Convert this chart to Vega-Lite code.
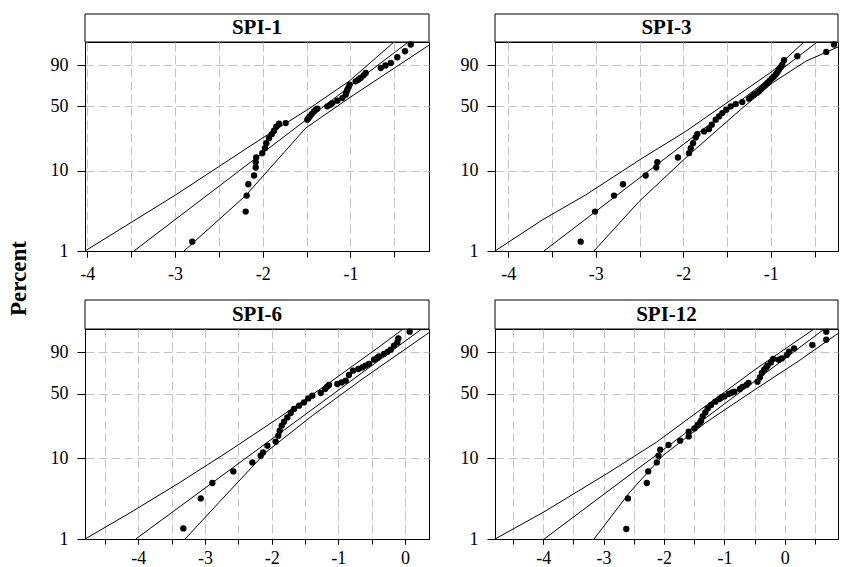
{
  "$schema": "https://vega.github.io/schema/vega-lite/v6.json",
  "background": "white",
  "padding": {"left": 7, "top": 13, "right": 0, "bottom": 0},
  "title": {"text": "Percent", "orient": "left", "anchor": "middle", "font": "Liberation Serif", "fontSize": 23, "fontWeight": "bold", "color": "black", "offset": 19, "dx": 12},
  "datasets": {
    "points": [
      {"panel":"SPI-1","x":-2.803,"t":-4.327},{"panel":"SPI-1","x":-2.194,"t":-3.448},{"panel":"SPI-1","x":-2.183,"t":-2.978},{"panel":"SPI-1","x":-2.164,"t":-2.647},{"panel":"SPI-1","x":-2.099,"t":-2.392},{"panel":"SPI-1","x":-2.080,"t":-2.157},{"panel":"SPI-1","x":-2.080,"t":-2.002},{"panel":"SPI-1","x":-2.074,"t":-1.864},{"panel":"SPI-1","x":-2.005,"t":-1.738},{"panel":"SPI-1","x":-1.974,"t":-1.591},{"panel":"SPI-1","x":-1.959,"t":-1.445},{"panel":"SPI-1","x":-1.928,"t":-1.298},{"panel":"SPI-1","x":-1.897,"t":-1.181},{"panel":"SPI-1","x":-1.871,"t":-1.081},{"panel":"SPI-1","x":-1.845,"t":-0.964},{"panel":"SPI-1","x":-1.814,"t":-0.876},{"panel":"SPI-1","x":-1.738,"t":-0.858},{"panel":"SPI-1","x":-1.491,"t":-0.758},{"panel":"SPI-1","x":-1.478,"t":-0.710},{"panel":"SPI-1","x":-1.464,"t":-0.662},{"panel":"SPI-1","x":-1.441,"t":-0.594},{"panel":"SPI-1","x":-1.415,"t":-0.515},{"panel":"SPI-1","x":-1.395,"t":-0.470},{"panel":"SPI-1","x":-1.377,"t":-0.436},{"panel":"SPI-1","x":-1.263,"t":-0.368},{"panel":"SPI-1","x":-1.230,"t":-0.320},{"panel":"SPI-1","x":-1.206,"t":-0.272},{"panel":"SPI-1","x":-1.149,"t":-0.201},{"panel":"SPI-1","x":-1.092,"t":-0.125},{"panel":"SPI-1","x":-1.054,"t":-0.025},{"panel":"SPI-1","x":-1.045,"t":0.050},{"panel":"SPI-1","x":-1.035,"t":0.121},{"panel":"SPI-1","x":-1.020,"t":0.195},{"panel":"SPI-1","x":-1.008,"t":0.268},{"panel":"SPI-1","x":-0.940,"t":0.365},{"panel":"SPI-1","x":-0.910,"t":0.410},{"panel":"SPI-1","x":-0.883,"t":0.462},{"panel":"SPI-1","x":-0.850,"t":0.540},{"panel":"SPI-1","x":-0.826,"t":0.608},{"panel":"SPI-1","x":-0.654,"t":0.755},{"panel":"SPI-1","x":-0.600,"t":0.830},{"panel":"SPI-1","x":-0.540,"t":0.901},{"panel":"SPI-1","x":-0.465,"t":1.069},{"panel":"SPI-1","x":-0.377,"t":1.245},{"panel":"SPI-1","x":-0.312,"t":1.441},

      {"panel":"SPI-3","x":-3.173,"t":-4.327},{"panel":"SPI-3","x":-3.009,"t":-3.448},{"panel":"SPI-3","x":-2.792,"t":-2.978},{"panel":"SPI-3","x":-2.689,"t":-2.647},{"panel":"SPI-3","x":-2.430,"t":-2.392},{"panel":"SPI-3","x":-2.309,"t":-2.157},{"panel":"SPI-3","x":-2.297,"t":-2.002},{"panel":"SPI-3","x":-2.061,"t":-1.864},{"panel":"SPI-3","x":-1.935,"t":-1.738},{"panel":"SPI-3","x":-1.915,"t":-1.591},{"panel":"SPI-3","x":-1.889,"t":-1.445},{"panel":"SPI-3","x":-1.858,"t":-1.277},{"panel":"SPI-3","x":-1.840,"t":-1.181},{"panel":"SPI-3","x":-1.763,"t":-1.101},{"panel":"SPI-3","x":-1.706,"t":-1.034},{"panel":"SPI-3","x":-1.675,"t":-0.905},{"panel":"SPI-3","x":-1.630,"t":-0.758},{"panel":"SPI-3","x":-1.592,"t":-0.662},{"panel":"SPI-3","x":-1.554,"t":-0.565},{"panel":"SPI-3","x":-1.509,"t":-0.465},{"panel":"SPI-3","x":-1.458,"t":-0.368},{"panel":"SPI-3","x":-1.401,"t":-0.301},{"panel":"SPI-3","x":-1.326,"t":-0.242},{"panel":"SPI-3","x":-1.249,"t":-0.143},{"panel":"SPI-3","x":-1.220,"t":-0.090},{"panel":"SPI-3","x":-1.192,"t":-0.025},{"panel":"SPI-3","x":-1.160,"t":0.020},{"panel":"SPI-3","x":-1.135,"t":0.072},{"panel":"SPI-3","x":-1.110,"t":0.130},{"panel":"SPI-3","x":-1.089,"t":0.189},{"panel":"SPI-3","x":-1.065,"t":0.250},{"panel":"SPI-3","x":-1.040,"t":0.315},{"panel":"SPI-3","x":-1.015,"t":0.380},{"panel":"SPI-3","x":-0.990,"t":0.444},{"panel":"SPI-3","x":-0.967,"t":0.500},{"panel":"SPI-3","x":-0.944,"t":0.561},{"panel":"SPI-3","x":-0.925,"t":0.630},{"panel":"SPI-3","x":-0.906,"t":0.708},{"panel":"SPI-3","x":-0.885,"t":0.780},{"panel":"SPI-3","x":-0.869,"t":0.855},{"panel":"SPI-3","x":-0.849,"t":0.981},{"panel":"SPI-3","x":-0.697,"t":1.098},{"panel":"SPI-3","x":-0.366,"t":1.224},{"panel":"SPI-3","x":-0.278,"t":1.441},

      {"panel":"SPI-6","x":-3.324,"t":-4.291},{"panel":"SPI-6","x":-3.063,"t":-3.418},{"panel":"SPI-6","x":-2.889,"t":-2.969},{"panel":"SPI-6","x":-2.574,"t":-2.631},{"panel":"SPI-6","x":-2.289,"t":-2.369},{"panel":"SPI-6","x":-2.164,"t":-2.174},{"panel":"SPI-6","x":-2.129,"t":-2.078},{"panel":"SPI-6","x":-2.064,"t":-1.883},{"panel":"SPI-6","x":-1.939,"t":-1.766},{"panel":"SPI-6","x":-1.900,"t":-1.592},{"panel":"SPI-6","x":-1.879,"t":-1.446},{"panel":"SPI-6","x":-1.849,"t":-1.301},{"panel":"SPI-6","x":-1.814,"t":-1.184},{"panel":"SPI-6","x":-1.765,"t":-1.059},{"panel":"SPI-6","x":-1.714,"t":-0.931},{"panel":"SPI-6","x":-1.664,"t":-0.814},{"panel":"SPI-6","x":-1.589,"t":-0.718},{"panel":"SPI-6","x":-1.514,"t":-0.622},{"panel":"SPI-6","x":-1.450,"t":-0.506},{"panel":"SPI-6","x":-1.390,"t":-0.427},{"panel":"SPI-6","x":-1.264,"t":-0.348},{"panel":"SPI-6","x":-1.199,"t":-0.232},{"panel":"SPI-6","x":-1.170,"t":-0.170},{"panel":"SPI-6","x":-1.139,"t":-0.115},{"panel":"SPI-6","x":-1.015,"t":-0.086},{"panel":"SPI-6","x":-0.950,"t":-0.040},{"panel":"SPI-6","x":-0.889,"t":0.010},{"panel":"SPI-6","x":-0.840,"t":0.176},{"panel":"SPI-6","x":-0.780,"t":0.301},{"panel":"SPI-6","x":-0.700,"t":0.350},{"panel":"SPI-6","x":-0.640,"t":0.397},{"panel":"SPI-6","x":-0.590,"t":0.450},{"panel":"SPI-6","x":-0.540,"t":0.496},{"panel":"SPI-6","x":-0.465,"t":0.621},{"panel":"SPI-6","x":-0.420,"t":0.670},{"panel":"SPI-6","x":-0.390,"t":0.718},{"panel":"SPI-6","x":-0.315,"t":0.787},{"panel":"SPI-6","x":-0.260,"t":0.850},{"panel":"SPI-6","x":-0.214,"t":0.913},{"panel":"SPI-6","x":-0.165,"t":1.029},{"panel":"SPI-6","x":-0.115,"t":1.125},{"panel":"SPI-6","x":-0.100,"t":1.242},{"panel":"SPI-6","x":0.070,"t":1.437},

      {"panel":"SPI-12","x":-2.624,"t":-4.309},{"panel":"SPI-12","x":-2.597,"t":-3.418},{"panel":"SPI-12","x":-2.284,"t":-2.969},{"panel":"SPI-12","x":-2.261,"t":-2.631},{"panel":"SPI-12","x":-2.119,"t":-2.369},{"panel":"SPI-12","x":-2.091,"t":-2.174},{"panel":"SPI-12","x":-2.063,"t":-1.999},{"panel":"SPI-12","x":-1.926,"t":-1.862},{"panel":"SPI-12","x":-1.733,"t":-1.737},{"panel":"SPI-12","x":-1.591,"t":-1.612},{"panel":"SPI-12","x":-1.591,"t":-1.475},{"panel":"SPI-12","x":-1.497,"t":-1.379},{"panel":"SPI-12","x":-1.442,"t":-1.280},{"panel":"SPI-12","x":-1.400,"t":-1.200},{"panel":"SPI-12","x":-1.386,"t":-1.155},{"panel":"SPI-12","x":-1.360,"t":-1.030},{"panel":"SPI-12","x":-1.315,"t":-0.913},{"panel":"SPI-12","x":-1.277,"t":-0.797},{"panel":"SPI-12","x":-1.221,"t":-0.698},{"panel":"SPI-12","x":-1.150,"t":-0.602},{"panel":"SPI-12","x":-1.084,"t":-0.523},{"panel":"SPI-12","x":-1.050,"t":-0.480},{"panel":"SPI-12","x":-1.002,"t":-0.447},{"panel":"SPI-12","x":-0.931,"t":-0.377},{"panel":"SPI-12","x":-0.880,"t":-0.340},{"panel":"SPI-12","x":-0.837,"t":-0.311},{"panel":"SPI-12","x":-0.743,"t":-0.232},{"panel":"SPI-12","x":-0.700,"t":-0.170},{"panel":"SPI-12","x":-0.634,"t":-0.115},{"panel":"SPI-12","x":-0.601,"t":-0.057},{"panel":"SPI-12","x":-0.452,"t":-0.019},{"panel":"SPI-12","x":-0.413,"t":0.106},{"panel":"SPI-12","x":-0.380,"t":0.234},{"panel":"SPI-12","x":-0.342,"t":0.330},{"panel":"SPI-12","x":-0.310,"t":0.390},{"panel":"SPI-12","x":-0.287,"t":0.447},{"panel":"SPI-12","x":-0.231,"t":0.543},{"panel":"SPI-12","x":-0.193,"t":0.642},{"panel":"SPI-12","x":-0.100,"t":0.620},{"panel":"SPI-12","x":-0.050,"t":0.659},{"panel":"SPI-12","x":0.033,"t":0.758},{"panel":"SPI-12","x":0.071,"t":0.854},{"panel":"SPI-12","x":0.153,"t":0.950},{"panel":"SPI-12","x":0.455,"t":1.049},{"panel":"SPI-12","x":0.686,"t":1.204},{"panel":"SPI-12","x":0.686,"t":1.437}
    ],
    "lines": [
      {"panel":"SPI-1","curve":"fit","x":-3.468,"t":-4.6},{"panel":"SPI-1","curve":"fit","x":-0.340,"t":1.515},
      {"panel":"SPI-1","curve":"upper","x":-4.026,"t":-4.6},{"panel":"SPI-1","curve":"upper","x":-2.992,"t":-2.958},{"panel":"SPI-1","curve":"upper","x":-2.005,"t":-1.298},{"panel":"SPI-1","curve":"upper","x":-1.472,"t":-0.436},{"panel":"SPI-1","curve":"upper","x":-1.016,"t":0.365},{"panel":"SPI-1","curve":"upper","x":-0.503,"t":1.515},
      {"panel":"SPI-1","curve":"lower","x":-2.897,"t":-4.6},{"panel":"SPI-1","curve":"lower","x":-2.194,"t":-2.978},{"panel":"SPI-1","curve":"lower","x":-1.510,"t":-1.004},{"panel":"SPI-1","curve":"lower","x":-1.016,"t":-0.125},{"panel":"SPI-1","curve":"lower","x":-0.123,"t":1.391},{"panel":"SPI-1","curve":"lower","x":-0.104,"t":1.420},

      {"panel":"SPI-3","curve":"fit","x":-3.592,"t":-4.6},{"panel":"SPI-3","curve":"fit","x":-0.469,"t":1.515},
      {"panel":"SPI-3","curve":"upper","x":-4.152,"t":-4.6},{"panel":"SPI-3","curve":"upper","x":-3.611,"t":-3.691},{"panel":"SPI-3","curve":"upper","x":-3.115,"t":-2.958},{"panel":"SPI-3","curve":"upper","x":-2.469,"t":-1.884},{"panel":"SPI-3","curve":"upper","x":-1.973,"t":-1.101},{"panel":"SPI-3","curve":"upper","x":-1.478,"t":-0.222},{"panel":"SPI-3","curve":"upper","x":-0.983,"t":0.658},{"panel":"SPI-3","curve":"upper","x":-0.621,"t":1.515},
      {"panel":"SPI-3","curve":"lower","x":-3.021,"t":-4.6},{"panel":"SPI-3","curve":"lower","x":-2.506,"t":-3.154},{"panel":"SPI-3","curve":"lower","x":-1.935,"t":-1.785},{"panel":"SPI-3","curve":"lower","x":-1.326,"t":-0.418},{"panel":"SPI-3","curve":"lower","x":-0.983,"t":0.315},{"panel":"SPI-3","curve":"lower","x":-0.601,"t":0.951},{"panel":"SPI-3","curve":"lower","x":-0.232,"t":1.370},

      {"panel":"SPI-6","curve":"fit","x":-4.038,"t":-4.6},{"panel":"SPI-6","curve":"fit","x":0.250,"t":1.515},
      {"panel":"SPI-6","curve":"upper","x":-4.798,"t":-4.6},{"panel":"SPI-6","curve":"upper","x":-4.138,"t":-3.854},{"panel":"SPI-6","curve":"upper","x":-3.388,"t":-2.969},{"panel":"SPI-6","curve":"upper","x":-2.639,"t":-2.037},{"panel":"SPI-6","curve":"upper","x":-1.889,"t":-1.067},{"panel":"SPI-6","curve":"upper","x":-1.139,"t":-0.057},{"panel":"SPI-6","curve":"upper","x":-0.390,"t":0.991},{"panel":"SPI-6","curve":"upper","x":-0.015,"t":1.533},
      {"panel":"SPI-6","curve":"lower","x":-3.298,"t":-4.6},{"panel":"SPI-6","curve":"lower","x":-2.789,"t":-3.534},{"panel":"SPI-6","curve":"lower","x":-2.089,"t":-2.078},{"panel":"SPI-6","curve":"lower","x":-1.390,"t":-1.009},{"panel":"SPI-6","curve":"lower","x":-0.640,"t":0.059},{"panel":"SPI-6","curve":"lower","x":0.310,"t":1.341},{"panel":"SPI-6","curve":"lower","x":0.360,"t":1.410},

      {"panel":"SPI-12","curve":"fit","x":-3.983,"t":-4.6},{"panel":"SPI-12","curve":"fit","x":0.654,"t":1.515},
      {"panel":"SPI-12","curve":"upper","x":-4.797,"t":-4.6},{"panel":"SPI-12","curve":"upper","x":-4.000,"t":-3.825},{"panel":"SPI-12","curve":"upper","x":-2.954,"t":-2.707},{"panel":"SPI-12","curve":"upper","x":-2.129,"t":-1.787},{"panel":"SPI-12","curve":"upper","x":-1.304,"t":-0.718},{"panel":"SPI-12","curve":"upper","x":-0.479,"t":0.350},{"panel":"SPI-12","curve":"upper","x":0.483,"t":1.515},
      {"panel":"SPI-12","curve":"lower","x":-3.158,"t":-4.6},{"panel":"SPI-12","curve":"lower","x":-2.569,"t":-3.243},{"panel":"SPI-12","curve":"lower","x":-2.020,"t":-2.174},{"panel":"SPI-12","curve":"lower","x":-1.304,"t":-1.204},{"panel":"SPI-12","curve":"lower","x":-0.479,"t":-0.232},{"panel":"SPI-12","curve":"lower","x":0.236,"t":0.592},{"panel":"SPI-12","curve":"lower","x":0.842,"t":1.341},{"panel":"SPI-12","curve":"lower","x":0.880,"t":1.380}
    ]
  },
  "spacing": 15,
  "vconcat": [
    {
      "spacing": 29,
      "hconcat": [
        {
          "spacing": 0,
          "bounds": "flush",
          "vconcat": [
            {"width": 344, "height": 28, "data": {"values": [{"label": "SPI-1"}]},
             "layer": [
               {"mark": {"type": "rect", "fill": "white", "stroke": "black", "strokeWidth": 1}, "encoding": {}},
               {"mark": {"type": "text", "font": "Liberation Serif", "fontSize": 21, "fontWeight": "bold", "color": "black"}, "encoding": {"text": {"field": "label", "type": "nominal"}}}
             ]},
            {"width": 344, "height": 209,
             "resolve": {"axis": {"x": "independent"}},
             "layer": [
               {"data": {"name": "lines"}, "transform": [{"filter": "datum.panel === 'SPI-1'"}], "mark": {"type": "line", "color": "black", "strokeWidth": 1, "clip": true},
                "encoding": {
                  "x": {"field": "x", "type": "quantitative", "scale": {"domain": [-4.026, -0.104], "nice": false, "zero": false}, "axis": {"orient": "bottom", "values": [-4, -3, -2, -1], "labelExpr": "'' + datum.value", "title": null, "grid": false, "tickSize": 6, "labelPadding": 8, "labelOverlap": false, "labelFlush": false}},
                  "y": {"field": "t", "type": "quantitative", "scale": {"domain": [-4.600149, 1.515], "nice": false, "zero": false}, "axis": {"values": [-4.600149, -2.250367, -0.366513, 0.834032], "labelExpr": "datum.value < -4 ? '1' : datum.value < -2 ? '10' : datum.value < 0 ? '50' : '90'", "title": null, "labelOverlap": false, "gridColor": {"condition": {"test": "datum.value < -4", "value": "transparent"}, "value": "#c4c4c4"}}},
                  "detail": {"field": "curve", "type": "nominal"}
                }},
               {"data": {"name": "points"}, "transform": [{"filter": "datum.panel === 'SPI-1'"}], "mark": {"type": "circle", "color": "black", "size": 40, "opacity": 1},
                "encoding": {"x": {"field": "x", "type": "quantitative", "axis": {"orient": "bottom", "values": [-4, -3.5, -3, -2.5, -2, -1.5, -1, -0.5], "labels": false, "domain": false, "grid": true, "title": null, "tickSize": 6}}, "y": {"field": "t", "type": "quantitative"}}}
             ]}
          ]
        },
        {
          "spacing": 0,
          "bounds": "flush",
          "vconcat": [
            {"width": 343, "height": 28, "data": {"values": [{"label": "SPI-3"}]},
             "layer": [
               {"mark": {"type": "rect", "fill": "white", "stroke": "black", "strokeWidth": 1}, "encoding": {}},
               {"mark": {"type": "text", "font": "Liberation Serif", "fontSize": 21, "fontWeight": "bold", "color": "black"}, "encoding": {"text": {"field": "label", "type": "nominal"}}}
             ]},
            {"width": 343, "height": 209,
             "resolve": {"axis": {"x": "independent"}},
             "layer": [
               {"data": {"name": "lines"}, "transform": [{"filter": "datum.panel === 'SPI-3'"}], "mark": {"type": "line", "color": "black", "strokeWidth": 1, "clip": true},
                "encoding": {
                  "x": {"field": "x", "type": "quantitative", "scale": {"domain": [-4.152, -0.232], "nice": false, "zero": false}, "axis": {"orient": "bottom", "values": [-4, -3, -2, -1], "labelExpr": "'' + datum.value", "title": null, "grid": false, "tickSize": 6, "labelPadding": 8, "labelOverlap": false, "labelFlush": false}},
                  "y": {"field": "t", "type": "quantitative", "scale": {"domain": [-4.600149, 1.515], "nice": false, "zero": false}, "axis": {"values": [-4.600149, -2.250367, -0.366513, 0.834032], "labelExpr": "datum.value < -4 ? '1' : datum.value < -2 ? '10' : datum.value < 0 ? '50' : '90'", "title": null, "labelOverlap": false, "gridColor": {"condition": {"test": "datum.value < -4", "value": "transparent"}, "value": "#c4c4c4"}}},
                  "detail": {"field": "curve", "type": "nominal"}
                }},
               {"data": {"name": "points"}, "transform": [{"filter": "datum.panel === 'SPI-3'"}], "mark": {"type": "circle", "color": "black", "size": 40, "opacity": 1},
                "encoding": {"x": {"field": "x", "type": "quantitative", "axis": {"orient": "bottom", "values": [-4, -3.5, -3, -2.5, -2, -1.5, -1, -0.5], "labels": false, "domain": false, "grid": true, "title": null, "tickSize": 6}}, "y": {"field": "t", "type": "quantitative"}}}
             ]}
          ]
        }
      ]
    },
    {
      "spacing": 29,
      "hconcat": [
        {
          "spacing": 0,
          "bounds": "flush",
          "vconcat": [
            {"width": 344, "height": 29, "data": {"values": [{"label": "SPI-6"}]},
             "layer": [
               {"mark": {"type": "rect", "fill": "white", "stroke": "black", "strokeWidth": 1}, "encoding": {}},
               {"mark": {"type": "text", "font": "Liberation Serif", "fontSize": 21, "fontWeight": "bold", "color": "black"}, "encoding": {"text": {"field": "label", "type": "nominal"}}}
             ]},
            {"width": 344, "height": 210,
             "resolve": {"axis": {"x": "independent"}},
             "layer": [
               {"data": {"name": "lines"}, "transform": [{"filter": "datum.panel === 'SPI-6'"}], "mark": {"type": "line", "color": "black", "strokeWidth": 1, "clip": true},
                "encoding": {
                  "x": {"field": "x", "type": "quantitative", "scale": {"domain": [-4.799, 0.36], "nice": false, "zero": false}, "axis": {"orient": "bottom", "values": [-4, -3, -2, -1, 0], "labelExpr": "'' + datum.value", "title": null, "grid": false, "tickSize": 5, "labelPadding": 5, "labelOverlap": false, "labelFlush": false}},
                  "y": {"field": "t", "type": "quantitative", "scale": {"domain": [-4.600149, 1.515], "nice": false, "zero": false}, "axis": {"values": [-4.600149, -2.250367, -0.366513, 0.834032], "labelExpr": "datum.value < -4 ? '1' : datum.value < -2 ? '10' : datum.value < 0 ? '50' : '90'", "title": null, "labelOverlap": false, "gridColor": {"condition": {"test": "datum.value < -4", "value": "transparent"}, "value": "#c4c4c4"}}},
                  "detail": {"field": "curve", "type": "nominal"}
                }},
               {"data": {"name": "points"}, "transform": [{"filter": "datum.panel === 'SPI-6'"}], "mark": {"type": "circle", "color": "black", "size": 40, "opacity": 1},
                "encoding": {"x": {"field": "x", "type": "quantitative", "axis": {"orient": "bottom", "values": [-4.5, -4, -3.5, -3, -2.5, -2, -1.5, -1, -0.5, 0], "labels": false, "domain": false, "grid": true, "title": null, "tickSize": 5}}, "y": {"field": "t", "type": "quantitative"}}}
             ]}
          ]
        },
        {
          "spacing": 0,
          "bounds": "flush",
          "vconcat": [
            {"width": 343, "height": 29, "data": {"values": [{"label": "SPI-12"}]},
             "layer": [
               {"mark": {"type": "rect", "fill": "white", "stroke": "black", "strokeWidth": 1}, "encoding": {}},
               {"mark": {"type": "text", "font": "Liberation Serif", "fontSize": 21, "fontWeight": "bold", "color": "black"}, "encoding": {"text": {"field": "label", "type": "nominal"}}}
             ]},
            {"width": 343, "height": 210,
             "resolve": {"axis": {"x": "independent"}},
             "layer": [
               {"data": {"name": "lines"}, "transform": [{"filter": "datum.panel === 'SPI-12'"}], "mark": {"type": "line", "color": "black", "strokeWidth": 1, "clip": true},
                "encoding": {
                  "x": {"field": "x", "type": "quantitative", "scale": {"domain": [-4.797, 0.88], "nice": false, "zero": false}, "axis": {"orient": "bottom", "values": [-4, -3, -2, -1, 0], "labelExpr": "'' + datum.value", "title": null, "grid": false, "tickSize": 5, "labelPadding": 5, "labelOverlap": false, "labelFlush": false}},
                  "y": {"field": "t", "type": "quantitative", "scale": {"domain": [-4.600149, 1.515], "nice": false, "zero": false}, "axis": {"values": [-4.600149, -2.250367, -0.366513, 0.834032], "labelExpr": "datum.value < -4 ? '1' : datum.value < -2 ? '10' : datum.value < 0 ? '50' : '90'", "title": null, "labelOverlap": false, "gridColor": {"condition": {"test": "datum.value < -4", "value": "transparent"}, "value": "#c4c4c4"}}},
                  "detail": {"field": "curve", "type": "nominal"}
                }},
               {"data": {"name": "points"}, "transform": [{"filter": "datum.panel === 'SPI-12'"}], "mark": {"type": "circle", "color": "black", "size": 40, "opacity": 1},
                "encoding": {"x": {"field": "x", "type": "quantitative", "axis": {"orient": "bottom", "values": [-4.5, -4, -3.5, -3, -2.5, -2, -1.5, -1, -0.5, 0, 0.5], "labels": false, "domain": false, "grid": true, "title": null, "tickSize": 5}}, "y": {"field": "t", "type": "quantitative"}}}
             ]}
          ]
        }
      ]
    }
  ],
  "config": {
    "view": {"stroke": "black", "strokeWidth": 1},
    "font": "Liberation Serif",
    "axis": {"labelFont": "Liberation Serif", "labelFontSize": 18, "labelColor": "black", "tickColor": "black", "domainColor": "black", "gridColor": "#c4c4c4", "gridDash": [9, 4], "gridWidth": 1, "labelFlush": false, "labelOverlap": false, "labelBound": false},
    "axisY": {"tickSize": 8, "labelPadding": 9}
  }
}
